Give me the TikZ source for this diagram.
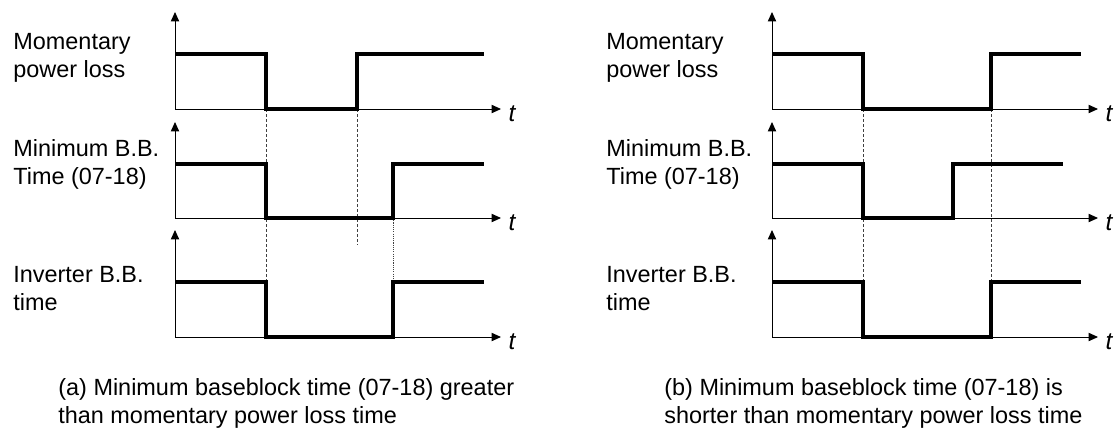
\documentclass[tikz,border=0pt]{standalone}
\usepackage{fontspec}
\setmainfont{Liberation Sans}
\usetikzlibrary{arrows.meta}

\tikzset{
  axis/.style={line width=0.5pt},
  sig/.style={line width=1.6pt,line join=miter},
  guide/.style={line width=0.45pt,black!75,dash pattern=on 0.55mm off 0.35mm},
  guidedot/.style={line width=0.45pt,black!75,dash pattern=on 0.2mm off 0.2mm},
  lbl/.style={anchor=base west,align=left,inner sep=0pt,font=\fontsize{12}{13.9}\selectfont},
  tlbl/.style={anchor=base west,inner sep=0pt,xshift=1.3mm,yshift=-2.2mm,font=\fontsize{12.5}{13.9}\selectfont\itshape}
}

\begin{document}
\begin{tikzpicture}[x=0.18mm,y=-0.18mm,>={Triangle[length=1.7mm,width=1.5mm]}]
\useasboundingbox (0,0) rectangle (1117,430);
% axes of both panels
\foreach \px/\p in {175/A,772/B}{
  \foreach \ay/\ty/\r in {109/12/1,218/122/2,337/230/3}{
    \coordinate (o\p\r) at (\px,\ay);
    \draw[axis,->] (o\p\r) -- (\px,\ty);
    \draw[axis,->] (o\p\r) -- ++(326,0) node[tlbl] (t\p\r) {t};
  }
}
% guide lines
\draw[guide] (266,109) -- (266,282);
\draw[guide] (357,109) -- (357,245);
\draw[guidedot] (393,218) -- (393,282);
\draw[guide] (863,109) -- (863,282);
\draw[guide] (991,109) -- (991,282);
% (a) signals
\draw[sig] (175,54) -- (266,54) -- (266,109) -- (357,109) -- (357,54) -- (484,54);
\draw[sig] (175,164) -- (266,164) -- (266,218) -- (393,218) -- (393,164) -- (484,164);
\draw[sig] (175,282) -- (266,282) -- (266,337) -- (393,337) -- (393,282) -- (484,282);
% (b) signals
\draw[sig] (772,54) -- (863,54) -- (863,109) -- (991,109) -- (991,54) -- (1081,54);
\draw[sig] (772,164) -- (863,164) -- (863,218) -- (953,218) -- (953,164) -- (1063,164);
\draw[sig] (772,282) -- (863,282) -- (863,337) -- (991,337) -- (991,282) -- (1081,282);
% labels (base = last line)
\node[lbl] (lossA)  at (13,77)  {Momentary\\power loss};
\node[lbl] (minbbA) at (13,184) {Minimum B.B.\\Time (07-18)};
\node[lbl] (invA)   at (13,310) {Inverter B.B.\\time};
\node[lbl] (lossB)  at (606,77)  {Momentary\\power loss};
\node[lbl] (minbbB) at (606,184) {Minimum B.B.\\Time (07-18)};
\node[lbl] (invB)   at (606,310) {Inverter B.B.\\time};
\node[lbl] (capA) at (58,423)  {(a) Minimum baseblock time (07-18) greater\\than momentary power loss time};
\node[lbl] (capB) at (664,423) {(b) Minimum baseblock time (07-18) is\\shorter than momentary power loss time};
\end{tikzpicture}
\end{document}
